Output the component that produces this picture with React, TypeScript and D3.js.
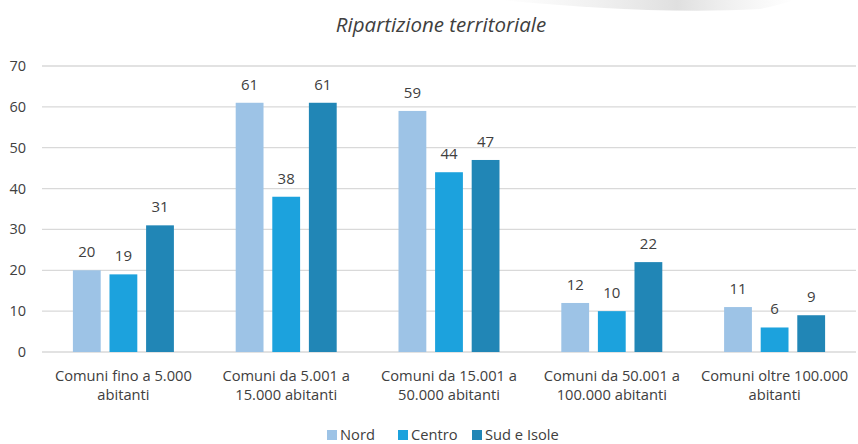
import React from "react";
import * as d3 from "d3";

const categories = [
  ["Comuni fino a 5.000", "abitanti"],
  ["Comuni da 5.001 a", "15.000 abitanti"],
  ["Comuni da 15.001 a", "50.000 abitanti"],
  ["Comuni da 50.001 a", "100.000 abitanti"],
  ["Comuni oltre 100.000", "abitanti"],
];
const seriesNames = ["Nord", "Centro", "Sud e Isole"];
const nord = [20, 61, 59, 12, 11];
const centro = [19, 38, 44, 10, 6];
const sud = [31, 61, 47, 22, 9];
const yTicks = [0, 10, 20, 30, 40, 50, 60, 70];
const title = "Ripartizione territoriale";

const colors = ["#9dc3e6", "#1ca2dd", "#2186b6"];
const font = "'Open Sans', 'Noto Sans', sans-serif";

export default function App() {
  const W = 858, H = 444;
  const left = 42, right = 856, top = 66, bottom = 352;
  const series = [nord, centro, sud];
  const x0 = d3.scaleBand<number>().domain(d3.range(categories.length)).range([left, right]).paddingInner(0).paddingOuter(0);
  const groupW = 101;
  const x1 = d3.scaleBand<number>().domain([0, 1, 2]).range([0, groupW]).paddingInner(0.24).paddingOuter(0);
  const y = d3.scaleLinear().domain([0, 70]).range([bottom, top]);

  return (
    <svg width={W} height={H} style={{ position: "absolute", left: 0, top: 0, background: "#fff" }}>
      <defs>
        <linearGradient id="sw" x1="0" x2="1" y1="0" y2="0">
          <stop offset="0" stopColor="#e6e6e6" stopOpacity="0" />
          <stop offset="0.6" stopColor="#dcdcdc" stopOpacity="0.9" />
          <stop offset="1" stopColor="#e8e8e8" stopOpacity="0" />
        </linearGradient>
      </defs>
      <path d="M500,0 C580,7 670,14 760,9 C775,6 785,3 795,0 Z" fill="url(#sw)" />
      <text x={441} y={32} textAnchor="middle" fontFamily={font} fontStyle="italic" fontSize={20.5} fill="#404040">
        {title}
      </text>
      {yTicks.map((t) => (
        <g key={t}>
          <line x1={left} x2={right} y1={y(t)} y2={y(t)} stroke="#d9d9d9" strokeWidth={1.3} />
          <text x={26} y={y(t) + 5} textAnchor="end" fontFamily={font} fontSize={14.5} fill="#404040">
            {t}
          </text>
        </g>
      ))}
      {categories.map((c, i) => {
        const cx = (x0(i) as number) + x0.bandwidth() / 2;
        const g0 = cx - groupW / 2;
        return (
          <g key={i}>
            {series.map((s, j) => {
              const bx = g0 + (x1(j) as number);
              const bw = x1.bandwidth();
              return (
                <g key={j}>
                  <rect x={bx} y={y(s[i])} width={bw} height={bottom - y(s[i])} fill={colors[j]} />
                  <text x={bx + bw / 2} y={y(s[i]) - 13} textAnchor="middle" fontFamily={font} fontSize={15} fill="#404040">
                    {s[i]}
                  </text>
                </g>
              );
            })}
            {c.map((line, k) => (
              <text key={k} x={cx} y={381 + k * 19} textAnchor="middle" fontFamily={font} fontSize={14.7} fill="#404040">
                {line}
              </text>
            ))}
          </g>
        );
      })}
      {(() => {
        const items = [
          { x: 327, label: seriesNames[0] },
          { x: 398, label: seriesNames[1] },
          { x: 472, label: seriesNames[2] },
        ];
        return items.map((it, j) => (
          <g key={j}>
            <rect x={it.x} y={430} width={10} height={10} fill={colors[j]} />
            <text x={it.x + 13} y={440} fontFamily={font} fontSize={14.7} fill="#404040">
              {it.label}
            </text>
          </g>
        ));
      })()}
    </svg>
  );
}
